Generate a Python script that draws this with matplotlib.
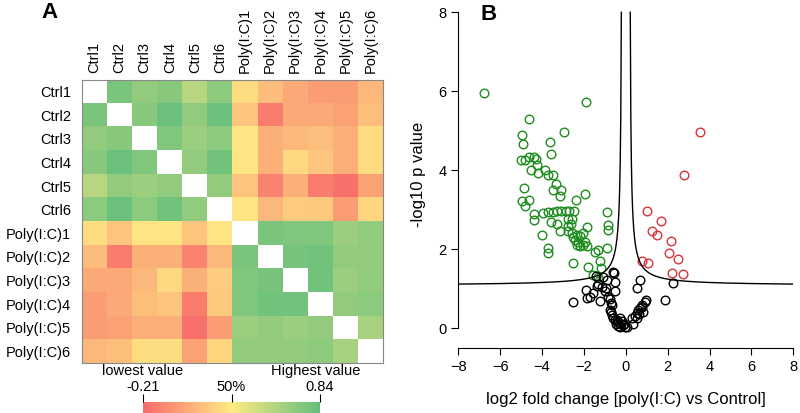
import numpy as np
import matplotlib
matplotlib.use("Agg")
import matplotlib.pyplot as plt
from matplotlib.colors import LinearSegmentedColormap, Normalize
from matplotlib.cm import ScalarMappable

plt.rcParams['font.family'] = ['Liberation Sans', 'DejaVu Sans']

# ---------------- Panel A data ----------------
samples = ["Ctrl1", "Ctrl2", "Ctrl3", "Ctrl4", "Ctrl5", "Ctrl6",
           "Poly(I:C)1", "Poly(I:C)2", "Poly(I:C)3", "Poly(I:C)4", "Poly(I:C)5", "Poly(I:C)6"]
nan = np.nan
corr = np.array([
    [nan, .76, .68, .71, .55, .70, .26, .13, .05, .00, .00, .11],
    [.76, nan, .71, .81, .68, .81, .16, -.13, .05, .05, .02, .14],
    [.68, .71, nan, .74, .65, .70, .29, .08, .11, .14, .07, .26],
    [.71, .81, .74, nan, .68, .79, .29, .08, .24, .16, .07, .26],
    [.55, .68, .65, .68, nan, .68, .16, -.10, .08, -.13, -.18, .02],
    [.70, .81, .70, .79, .68, nan, .29, .11, .19, .18, .00, .23],
    [.26, .16, .29, .29, .16, .29, nan, .76, .74, .74, .65, .68],
    [.13, -.13, .08, .08, -.10, .11, .76, nan, .77, .79, .68, .68],
    [.05, .05, .11, .24, .08, .19, .74, .77, nan, .79, .65, .68],
    [.00, .05, .14, .16, -.13, .18, .74, .79, .79, nan, .68, .70],
    [.00, .02, .07, .07, -.18, .00, .65, .68, .65, .68, nan, .61],
    [.11, .14, .26, .26, .02, .23, .68, .68, .68, .70, .61, nan],
])
vmin_val = -0.21
vmax_val = 0.84
cbar_ticklabels = ["-0.21", "50%", "0.84"]

# ---------------- Panel B data ----------------
green_x = [-6.76, -1.90, -4.62, -2.94, -4.97, -4.89, -3.63, -3.55, -4.99, -4.80, -4.60, -4.37, -4.31,
           -4.26, -4.55, -4.18, -3.86, -3.70, -3.47, -3.31, -4.85, -3.47, -3.08, -3.14, -1.95, -2.38,
           -4.98, -4.63, -4.83, -4.37, -4.40, -3.95, -3.70, -3.50, -3.30, -3.10, -2.88, -2.70, -2.47,
           -0.88, -3.56, -3.27, -3.15, -2.77, -2.56, -2.78, -2.64, -0.83, -0.83, -1.87, -2.75, -2.58,
           -2.51, -2.35, -2.19, -2.03, -4.02, -2.43, -2.27, -2.35, -2.19, -2.03, -1.95, -1.87, -3.71,
           -3.71, -1.47, -1.31, -0.91, -1.23, -2.51, -1.79, -1.20, -1.55, -1.31]
green_y = [5.96, 5.73, 5.31, 4.98, 4.88, 4.67, 4.72, 4.42, 4.26, 4.27, 4.33, 4.33, 4.28,
           4.13, 4.00, 3.92, 4.00, 3.88, 3.87, 3.65, 3.56, 3.50, 3.50, 3.35, 3.41, 3.25,
           3.23, 3.25, 3.10, 2.90, 2.74, 2.93, 2.94, 2.95, 2.97, 2.98, 2.98, 2.98, 2.98,
           2.95, 2.69, 2.64, 2.45, 2.77, 2.76, 2.60, 2.63, 2.62, 2.48, 2.56, 2.45, 2.42,
           2.32, 2.36, 2.34, 2.40, 2.35, 2.24, 2.19, 2.11, 2.07, 2.11, 2.19, 2.07, 2.02,
           1.90, 1.94, 1.98, 2.03, 1.70, 1.65, 1.55, 1.52, 1.36, 1.29]
red_x = [3.56, 2.76, 1.00, 1.67, 1.27, 1.47, 2.14, 2.08, 2.51, 0.76, 1.08, 2.22, 2.75]
red_y = [4.96, 3.89, 2.98, 2.72, 2.45, 2.36, 2.21, 1.91, 1.75, 1.71, 1.66, 1.41, 1.37]
black_x = [-0.63, -0.58, -1.07, -1.42, -0.91, -0.52, -1.31, -1.39, -1.15, -0.95, -0.52, -1.90,
           -1.55, -1.71, -1.87, -2.51, -1.23, -0.75, -0.70, -0.67, -0.75, -0.70, -0.67, -0.60,
           -0.52, -0.42, -0.35, -0.30, -0.45, -0.25, -0.20, -0.15, -0.38, -0.10, -0.04, 0.05,
           -0.28, 0.36, 0.28, 0.44, 0.52, 0.60, 0.70, 0.78, 0.90, 0.97, 0.55, 0.65, 0.82, 0.75,
           0.52, 0.70, 1.87, 2.27, -1.00, -0.85]
black_y = [1.43, 1.41, 1.31, 1.32, 1.22, 1.18, 1.12, 1.08, 1.05, 1.03, 0.95, 0.97,
           0.89, 0.80, 0.76, 0.66, 0.70, 0.73, 0.65, 0.58, 0.46, 0.40, 0.34, 0.25,
           0.20, 0.22, 0.15, 0.25, 0.12, 0.10, 0.18, 0.08, 0.05, 0.12, 0.04, 0.02,
           0.03, 0.10, 0.25, 0.30, 0.38, 0.45, 0.52, 0.60, 0.66, 0.72, 0.27, 0.35, 0.42, 0.55,
           1.01, 1.21, 0.72, 1.14, 0.95, 0.80]
# threshold curve parameters: y = base + scale / (|x| - offset)
curve_base = 1.08
curve_scale = 0.30
curve_offset = 0.17

W, H = 800, 413
fig = plt.figure(figsize=(W / 100, H / 100), dpi=100)

def px_axes(x0, y0, x1, y1):
    return fig.add_axes([x0 / W, 1 - y1 / H, (x1 - x0) / W, (y1 - y0) / H])

# ---------------- Panel A ----------------
cmap = LinearSegmentedColormap.from_list("ryg", ["#F8696B", "#FFEB84", "#63BE7B"])
norm = Normalize(vmin=vmin_val, vmax=vmax_val)
axA = px_axes(82, 80, 383, 363)
m = np.ma.masked_invalid(corr)
cm2 = cmap.copy()
cm2.set_bad("white")
axA.imshow(m, cmap=cm2, norm=norm, aspect="auto", interpolation="nearest")
n = len(samples)
axA.set_xticks(range(n))
axA.set_yticks(range(n))
axA.set_xticklabels(samples, rotation=90, fontsize=10.5)
axA.set_yticklabels(samples, fontsize=10.5)
axA.xaxis.tick_top()
axA.tick_params(length=0, pad=5)
axA.tick_params(axis='y', pad=8)
for s in axA.spines.values():
    s.set_color("#888888")
    s.set_linewidth(0.8)

fig.text(49 / W, 1 - 13 / H, "A", fontsize=16, fontweight="bold", ha="center", va="center")

# colorbar
axC = px_axes(143, 402, 320, 414)
cb = fig.colorbar(ScalarMappable(norm=norm, cmap=cmap), cax=axC, orientation="horizontal")
cb.outline.set_visible(False)
cb.set_ticks([vmin_val, (vmin_val + vmax_val) / 2, vmax_val])
cb.set_ticklabels(cbar_ticklabels)
axC.xaxis.set_ticks_position("top")
axC.tick_params(axis="x", length=6, width=0.8, labelsize=10.5, pad=0)
fig.text(143 / W, 1 - 371 / H, "lowest value", fontsize=10.5, ha="center", va="center")
fig.text(316 / W, 1 - 371 / H, "Highest value", fontsize=10.5, ha="center", va="center")

# ---------------- Panel B ----------------
ymin_lim, ymax_lim = -0.5, 8.3
axB = px_axes(458.3, 348 - (ymax_lim - ymin_lim) * 39.5, 793.3, 348)
axB.set_xlim(-8, 8)
axB.set_ylim(ymin_lim, ymax_lim)
ms = 6.2
axB.plot(green_x, green_y, "o", mfc="none", mec="#1E8C1E", ms=ms, mew=1.0)
axB.plot(red_x, red_y, "o", mfc="none", mec="#D8333A", ms=ms, mew=1.0)
axB.plot(black_x, black_y, "o", mfc="none", mec="black", ms=ms, mew=1.0)

xs = np.linspace(curve_offset + curve_scale / (8 - curve_base), 8, 600)
ys = curve_base + curve_scale / (xs - curve_offset)
axB.plot(xs, ys, color="black", lw=1.0)
axB.plot(-xs, ys, color="black", lw=1.0)

axB.spines["top"].set_visible(False)
axB.spines["right"].set_visible(False)
axB.spines["left"].set_bounds(0, 8)
axB.spines["bottom"].set_bounds(-8, 8)
axB.set_xticks(np.arange(-8, 9, 2))
axB.set_yticks(np.arange(0, 9, 2))
axB.tick_params(length=5, width=0.8, labelsize=10.5, direction="out")
axB.set_xlabel("log2 fold change [poly(I:C) vs Control]", fontsize=12, labelpad=13)
axB.set_ylabel("-log10 p value", fontsize=12, labelpad=9)
fig.text(489 / W, 1 - 15 / H, "B", fontsize=16, fontweight="bold", ha="center", va="center")

fig.savefig("out.png", dpi=100)
